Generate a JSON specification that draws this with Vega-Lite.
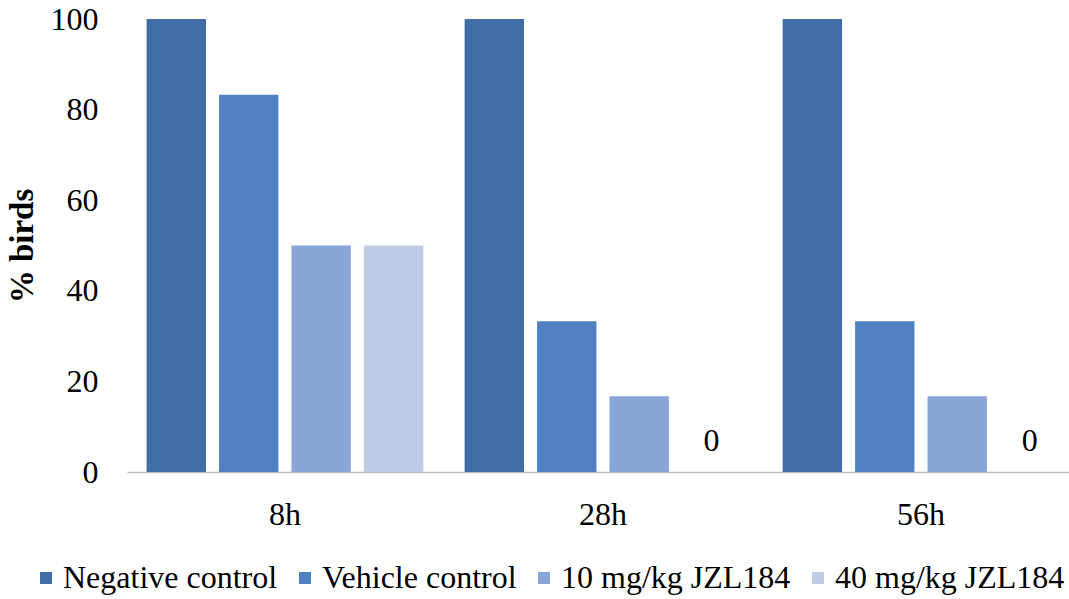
{
  "$schema": "https://vega.github.io/schema/vega-lite/v6.json",
  "autosize": "none",
  "padding": {"left": 127, "top": 19, "right": 0, "bottom": 127},
  "width": 942,
  "height": 453,
  "background": "white",
  "config": {
    "view": {"stroke": null},
    "font": "Liberation Serif"
  },
  "data": {
    "values": [
      {"time": "8h", "group": "Negative control", "value": 100},
      {"time": "8h", "group": "Vehicle control", "value": 83.3},
      {"time": "8h", "group": "10 mg/kg JZL184", "value": 50},
      {"time": "8h", "group": "40 mg/kg JZL184", "value": 50},
      {"time": "28h", "group": "Negative control", "value": 100},
      {"time": "28h", "group": "Vehicle control", "value": 33.3},
      {"time": "28h", "group": "10 mg/kg JZL184", "value": 16.7},
      {"time": "28h", "group": "40 mg/kg JZL184", "value": 0},
      {"time": "56h", "group": "Negative control", "value": 100},
      {"time": "56h", "group": "Vehicle control", "value": 33.3},
      {"time": "56h", "group": "10 mg/kg JZL184", "value": 16.7},
      {"time": "56h", "group": "40 mg/kg JZL184", "value": 0}
    ]
  },
  "encoding": {
    "x": {
      "field": "time",
      "type": "nominal",
      "sort": ["8h", "28h", "56h"],
      "scale": {"paddingInner": 0.13, "paddingOuter": 0.046, "align": 0.67},
      "axis": {
        "title": null,
        "labelAngle": 0,
        "labelFont": "Liberation Serif",
        "labelFontSize": 32,
        "labelColor": "black",
        "labelPadding": 27,
        "ticks": false,
        "domainColor": "#bfbfbf",
        "domainWidth": 1.5,
        "grid": false
      }
    },
    "xOffset": {
      "field": "group",
      "type": "nominal",
      "sort": ["Negative control", "Vehicle control", "10 mg/kg JZL184", "40 mg/kg JZL184"],
      "scale": {"paddingInner": 0.18, "paddingOuter": 0}
    },
    "y": {
      "field": "value",
      "type": "quantitative",
      "scale": {"domain": [0, 100], "nice": false},
      "axis": {
        "title": "% birds",
        "titleFont": "Liberation Serif",
        "titleFontSize": 33,
        "titleFontWeight": "bold",
        "titleColor": "black",
        "titlePadding": 11,
        "values": [0, 20, 40, 60, 80, 100],
        "labelFont": "Liberation Serif",
        "labelFontSize": 32,
        "labelColor": "black",
        "labelPadding": 29,
        "ticks": false,
        "domain": false,
        "grid": false
      }
    }
  },
  "layer": [
    {
      "mark": {"type": "bar"},
      "encoding": {
        "color": {
          "field": "group",
          "type": "nominal",
          "scale": {
            "domain": ["Negative control", "Vehicle control", "10 mg/kg JZL184", "40 mg/kg JZL184"],
            "range": ["#416CA7", "#4F81C2", "#8AA5D7", "#C0CBE6"]
          },
          "legend": {
            "title": null,
            "orient": "none",
            "direction": "horizontal",
            "legendX": -97,
            "legendY": 543,
            "symbolType": "square",
            "symbolSize": 144,
            "symbolStrokeWidth": 0,
            "labelFont": "Liberation Serif",
            "labelFontSize": 32,
            "labelColor": "black",
            "labelOffset": 1,
            "columnPadding": 11,
            "labelLimit": 400
          }
        }
      }
    },
    {
      "transform": [{"filter": "datum.value === 0"}],
      "mark": {
        "type": "text",
        "font": "Liberation Serif",
        "fontSize": 32,
        "color": "black",
        "baseline": "middle",
        "align": "center",
        "dy": -31
      },
      "encoding": {
        "text": {"field": "value", "type": "quantitative"}
      }
    }
  ]
}
